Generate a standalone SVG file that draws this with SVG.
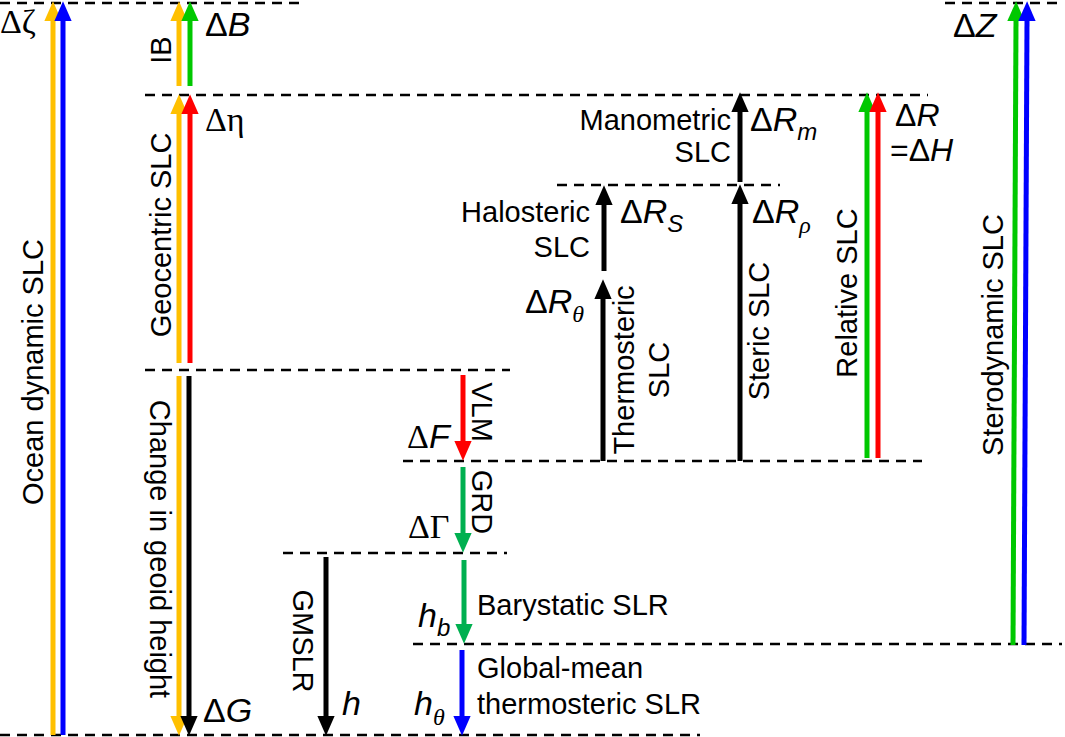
<svg xmlns="http://www.w3.org/2000/svg" width="1065" height="737" viewBox="0 0 1065 737">
<style>
.dash{stroke:#000;stroke-width:2.5;stroke-dasharray:10 7;fill:none}
.lbl{font-family:"Liberation Sans",Arial,sans-serif;font-size:29px;fill:#000}
.big{font-family:"Liberation Sans",Arial,sans-serif;font-size:34px;fill:#000}
.ser{font-family:"Liberation Serif","Times New Roman",serif}
.it{font-style:italic}
.sub{font-size:24px;font-style:italic}
.ln{stroke-width:5;fill:none}
.y{stroke:#FFC000}.b{stroke:#0000FF}.g{stroke:#00C800}.g2{stroke:#00B050}.r{stroke:#FF0000}.k{stroke:#000}
</style>
<defs>
<marker id="my" markerUnits="userSpaceOnUse" markerWidth="20" markerHeight="20" viewBox="0 -8 16 16" refX="1" refY="0" orient="auto"><path d="M0,-7 L16,0 L0,7 z" fill="#FFC000"/></marker>
<marker id="mb" markerUnits="userSpaceOnUse" markerWidth="20" markerHeight="20" viewBox="0 -8 16 16" refX="1" refY="0" orient="auto"><path d="M0,-7 L16,0 L0,7 z" fill="#0000FF"/></marker>
<marker id="mg" markerUnits="userSpaceOnUse" markerWidth="20" markerHeight="20" viewBox="0 -8 16 16" refX="1" refY="0" orient="auto"><path d="M0,-7 L16,0 L0,7 z" fill="#00C800"/></marker>
<marker id="mg2" markerUnits="userSpaceOnUse" markerWidth="20" markerHeight="20" viewBox="0 -8 16 16" refX="1" refY="0" orient="auto"><path d="M0,-7 L16,0 L0,7 z" fill="#00B050"/></marker>
<marker id="mr" markerUnits="userSpaceOnUse" markerWidth="20" markerHeight="20" viewBox="0 -8 16 16" refX="1" refY="0" orient="auto"><path d="M0,-7 L16,0 L0,7 z" fill="#FF0000"/></marker>
<marker id="mk" markerUnits="userSpaceOnUse" markerWidth="20" markerHeight="20" viewBox="0 -8 16 16" refX="1" refY="0" orient="auto"><path d="M0,-7 L16,0 L0,7 z" fill="#000"/></marker>
</defs>
<rect width="1065" height="737" fill="#fff"/>

<g id="levels">
<line class="dash" x1="0" y1="3" x2="302" y2="3"/>
<line class="dash" x1="945" y1="3" x2="1062" y2="3"/>
<line class="dash" x1="145" y1="95" x2="928" y2="95"/>
<line class="dash" x1="557" y1="185" x2="780" y2="185"/>
<line class="dash" x1="145" y1="370" x2="510" y2="370"/>
<line class="dash" x1="403" y1="461" x2="922" y2="461"/>
<line class="dash" x1="283" y1="553" x2="507" y2="553"/>
<line class="dash" x1="413" y1="644" x2="1062" y2="644"/>
<line class="dash" x1="0" y1="735" x2="700" y2="735"/>
</g>

<g id="connectors">
<line class="ln y" x1="53" y1="735" x2="53" y2="20" marker-end="url(#my)"/>
<line class="ln b" x1="63" y1="735" x2="63" y2="20" marker-end="url(#mb)"/>
<line class="ln y" x1="179" y1="86" x2="179" y2="20" marker-end="url(#my)"/>
<line class="ln g" x1="190" y1="86" x2="190" y2="20" marker-end="url(#mg)"/>
<line class="ln y" x1="179" y1="363" x2="179" y2="113" marker-end="url(#my)"/>
<line class="ln r" x1="190" y1="363" x2="190" y2="113" marker-end="url(#mr)"/>
<line class="ln k" x1="603" y1="461" x2="603" y2="298" marker-end="url(#mk)"/>
<line class="ln k" x1="604" y1="271" x2="604" y2="204" marker-end="url(#mk)"/>
<line class="ln k" x1="740" y1="182" x2="740" y2="111" marker-end="url(#mk)"/>
<line class="ln k" x1="740" y1="461" x2="740" y2="203" marker-end="url(#mk)"/>
<line class="ln g" x1="867" y1="458" x2="867" y2="111" marker-end="url(#mg)"/>
<line class="ln r" x1="878" y1="458" x2="878" y2="111" marker-end="url(#mr)"/>
<line class="ln g" x1="1013" y1="645" x2="1016" y2="20" marker-end="url(#mg)"/>
<line class="ln b" x1="1024" y1="645" x2="1027" y2="20" marker-end="url(#mb)"/>
<line class="ln y" x1="179" y1="376" x2="179" y2="717" marker-end="url(#my)"/>
<line class="ln k" x1="189" y1="376" x2="189" y2="717" marker-end="url(#mk)"/>
<line class="ln k" x1="326" y1="557" x2="326" y2="717" marker-end="url(#mk)"/>
<line class="ln r" x1="463" y1="375" x2="463" y2="442" marker-end="url(#mr)"/>
<line class="ln g2" x1="463" y1="467" x2="463" y2="534" marker-end="url(#mg2)"/>
<line class="ln g2" x1="464" y1="560" x2="464" y2="625" marker-end="url(#mg2)"/>
<line class="ln b" x1="462" y1="650" x2="462" y2="717" marker-end="url(#mb)"/>
</g>

<g id="ocean-dynamic">
<text class="lbl" transform="translate(43,372) rotate(-90)" text-anchor="middle">Ocean dynamic SLC</text>
<text class="big ser" x="0" y="33">Δζ</text>
</g>
<g id="ib">
<text class="lbl" transform="translate(171,50) rotate(-90)" text-anchor="middle">IB</text>
<text class="big" x="205" y="36">Δ<tspan class="it">B</tspan></text>
</g>
<g id="geocentric">
<text class="lbl" transform="translate(171,235) rotate(-90)" text-anchor="middle">Geocentric SLC</text>
<text class="big ser" x="205" y="131">Δη</text>
</g>
<g id="geoid">
<text class="lbl" transform="translate(150,549) rotate(90)" text-anchor="middle">Change in geoid height</text>
<text class="big" x="203" y="722">Δ<tspan class="it">G</tspan></text>
</g>
<g id="gmslr">
<text class="lbl" transform="translate(293,641) rotate(90)" text-anchor="middle">GMSLR</text>
<text class="big it" x="342" y="715">h</text>
</g>
<g id="vlm">
<text class="lbl" transform="translate(472,412) rotate(90)" text-anchor="middle">VLM</text>
<text class="big" x="407" y="448"><tspan class="ser">Δ</tspan><tspan class="it">F</tspan></text>
</g>
<g id="grd">
<text class="lbl" transform="translate(472,502) rotate(90)" text-anchor="middle">GRD</text>
<text class="big ser" x="408" y="538">ΔΓ</text>
</g>
<g id="barystatic">
<text class="lbl" x="477" y="615">Barystatic SLR</text>
<text class="big it" x="418" y="627">h<tspan class="sub" dy="9">b</tspan></text>
</g>
<g id="gm-thermosteric">
<text class="lbl" x="477" y="678">Global-mean</text>
<text class="lbl" x="477" y="714">thermosteric SLR</text>
<text class="big it" x="414" y="715">h<tspan class="sub ser" dy="10">θ</tspan></text>
</g>
<g id="thermosteric">
<text class="lbl" transform="translate(634,370) rotate(-90)" text-anchor="middle">Thermosteric</text>
<text class="lbl" transform="translate(669,370) rotate(-90)" text-anchor="middle">SLC</text>
<text class="big" x="525" y="313">Δ<tspan class="it">R</tspan><tspan class="sub ser" dy="9">θ</tspan></text>
</g>
<g id="halosteric">
<text class="lbl" x="590" y="222" text-anchor="end">Halosteric</text>
<text class="lbl" x="590" y="257" text-anchor="end">SLC</text>
<text class="big" x="620" y="223">Δ<tspan class="it">R</tspan><tspan class="sub" dy="9">S</tspan></text>
</g>
<g id="manometric">
<text class="lbl" x="731" y="130" text-anchor="end">Manometric</text>
<text class="lbl" x="731" y="162" text-anchor="end">SLC</text>
<text class="big" x="750" y="131">Δ<tspan class="it">R</tspan><tspan class="sub" dy="9">m</tspan></text>
</g>
<g id="steric">
<text class="lbl" transform="translate(769,331) rotate(-90)" text-anchor="middle">Steric SLC</text>
<text class="big" x="752" y="223">Δ<tspan class="it">R</tspan><tspan class="sub ser" dy="10">ρ</tspan></text>
</g>
<g id="relative">
<text class="lbl" transform="translate(857,293) rotate(-90)" text-anchor="middle">Relative SLC</text>
<text class="big" x="895" y="126" style="font-size:32px">Δ<tspan class="it">R</tspan></text>
<text class="big" x="890" y="161" style="font-size:32px">=Δ<tspan class="it">H</tspan></text>
</g>
<g id="sterodynamic">
<text class="lbl" transform="translate(1003,335) rotate(-90)" text-anchor="middle">Sterodynamic SLC</text>
<text class="big" x="953" y="37">Δ<tspan class="it">Z</tspan></text>
</g>
</svg>
